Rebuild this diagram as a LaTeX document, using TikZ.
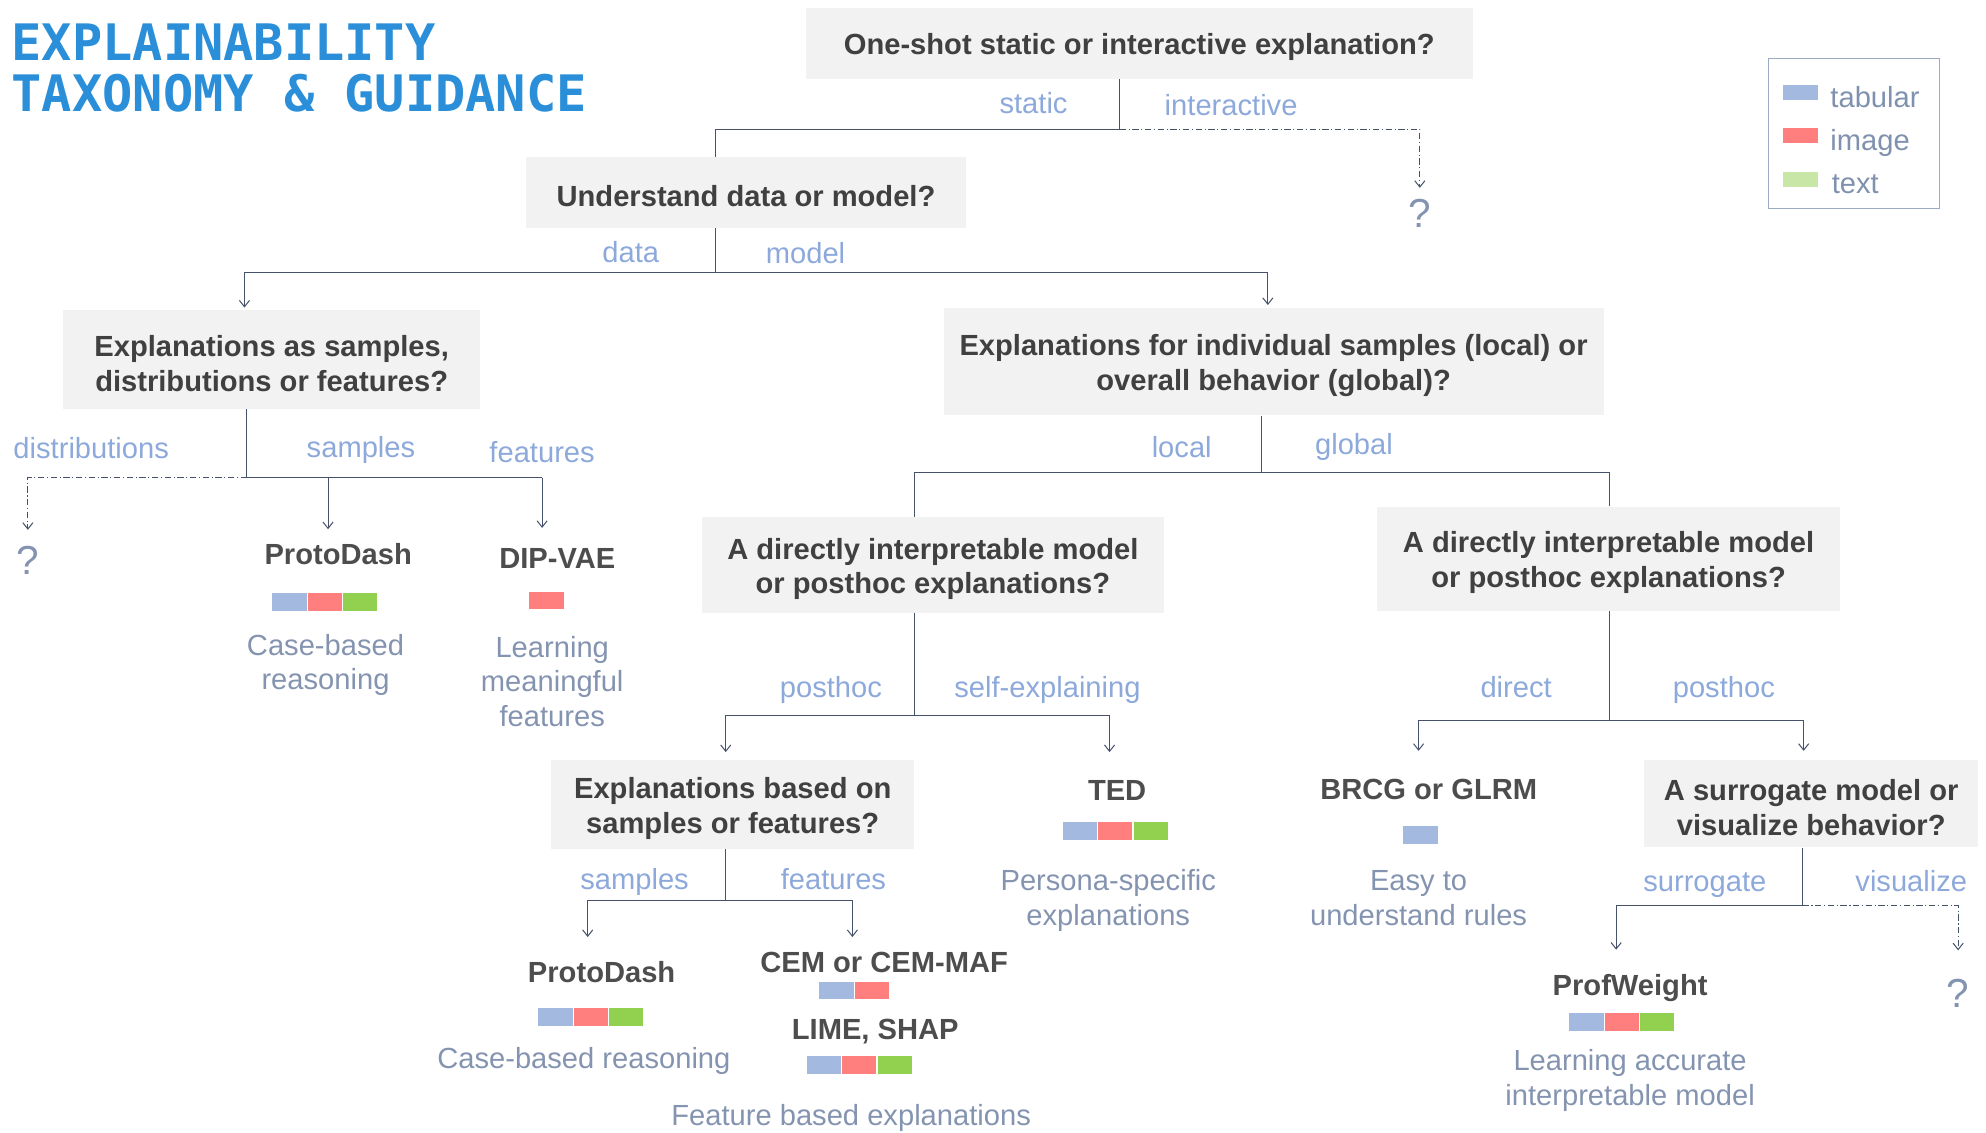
\documentclass[tikz,border=0pt]{standalone}
\usepackage{fontspec}
\setmainfont{Liberation Sans}
\newfontfamily\titlefont{DejaVu Sans Mono}
\usetikzlibrary{arrows.meta}

\definecolor{titleblue}{HTML}{2A8FD8}
\definecolor{boxgray}{HTML}{F2F2F2}
\definecolor{qtext}{HTML}{404040}
\definecolor{restext}{HTML}{4D4D4D}
\definecolor{desctext}{HTML}{8494B0}
\definecolor{branch}{HTML}{8DA9DB}
\definecolor{wire}{HTML}{46526A}
\definecolor{tabc}{HTML}{A3B9E0}
\definecolor{imgc}{HTML}{FF7F7F}
\definecolor{txtc}{HTML}{92D050}
\definecolor{legtxt}{HTML}{C8E6A6}
\definecolor{legframe}{HTML}{9AAAC2}
\definecolor{legfont}{HTML}{7F91AE}

\newcommand{\mainsize}{\fontsize{23}{27.5}\selectfont}
% extra room above the first line pushes box texts slightly down
\newcommand{\qtop}{\rule{0pt}{23pt}}

\tikzset{
  question/.style={fill=boxgray, text=qtext, font=\mainsize\bfseries, align=center, inner sep=0pt},
  result/.style={text=restext, font=\mainsize\bfseries, inner sep=0pt, text height=19pt, text depth=3pt},
  desc/.style={text=desctext, font=\mainsize, align=center, inner sep=0pt},
  branchlbl/.style={text=branch, font=\mainsize, inner sep=0pt, text height=19pt, text depth=3pt},
  legendlbl/.style={anchor=west, text=legfont, font=\mainsize, inner sep=0pt, text height=19pt, text depth=3pt},
  qmark/.style={text=desctext, font=\fontsize{32}{32}\selectfont, inner sep=0pt, text height=23pt, text depth=0pt},
  wire/.style={draw=wire, line width=0.8pt},
  tip/.style={-{Straight Barb[length=5pt,width=8pt]}},
  dd/.style={dash pattern=on 5pt off 2pt on 1pt off 2pt},
  titletext/.style={anchor=base west, inner sep=0pt, text=titleblue, font=\titlefont\bfseries\fontsize{39.7}{40}\selectfont},
}

% a row of modality swatches: x, y of the top-left corner, list of colours
\newcommand{\swatchrow}[3]{%
  \foreach \c [count=\i from 0] in {#3} {
    \fill[\c] ({#1+28*\i},#2) rectangle ++(27,14);
  }%
}

\begin{document}
\begin{tikzpicture}[x=1pt,y=-1pt]
\useasboundingbox (0,0) rectangle (1568,894);

% title
\node[titletext] (title1) at (9,48) {EXPLAINABILITY};
\node[titletext] (title2) at (9,88) {TAXONOMY \& GUIDANCE};

% legend
\node[draw=legframe, line width=0.8pt, minimum width=135pt, minimum height=119pt, inner sep=0pt] (legend) at (1463.5,105.5) {};
\fill[tabc] (1408,67) rectangle (1435,79);
\fill[imgc] (1408,101) rectangle (1435,113);
\fill[legtxt] (1408,136) rectangle (1435,148);
\node[legendlbl] (lgtab) at (1445,77) {tabular};
\node[legendlbl] (lgimg) at (1445,111) {image};
\node[legendlbl] (lgtxt) at (1446,145) {text};

% question boxes
\node[question, minimum width=527pt, minimum height=56pt] (q1) at (899.5,34) {\qtop One-shot static or interactive explanation?};
\node[question, minimum width=348pt, minimum height=56pt] (q2) at (589,152) {\qtop Understand data or model?};
\node[question, minimum width=329pt, minimum height=78pt] (q3) at (214.5,284) {\qtop Explanations as samples,\\distributions or features?};
\node[question, minimum width=521pt, minimum height=85pt] (q4) at (1005.5,285.5) {\qtop Explanations for individual samples (local) or\\overall behavior (global)?};
\node[question, minimum width=365pt, minimum height=76pt] (q5) at (736.5,446) {\qtop A directly interpretable model\\or posthoc explanations?};
\node[question, minimum width=366pt, minimum height=82pt] (q6) at (1270,441) {\qtop A directly interpretable model\\or posthoc explanations?};
\node[question, minimum width=287pt, minimum height=70pt] (q7) at (578.5,635) {\qtop Explanations based on\\samples or features?};
\node[question, minimum width=264pt, minimum height=69pt] (q8) at (1430,634.5) {\qtop A surrogate model or\\visualize behavior?};

% open ends
\node[qmark] (qm1) at (1121,168) {?};
\node[qmark] (qm2) at (22,442) {?};
\node[qmark] (qm3) at (1546,784) {?};

% methods
\node[result] (pd1) at (267,438) {ProtoDash};
\node[result] (dip) at (440,441) {DIP-VAE};
\node[result] (ted) at (882,624) {TED};
\node[result] (pd2) at (475,768) {ProtoDash};
\node[result] (cem) at (698,760) {CEM or CEM-MAF};
\node[result] (lime) at (691,813) {LIME, SHAP};
\node[result] (brcg) at (1128,623) {BRCG or GLRM};
\node[result] (prof) at (1287,778) {ProfWeight};

% modality swatches
\swatchrow{215}{468}{tabc,imgc,txtc}
\swatchrow{418}{467}{imgc}
\swatchrow{839}{649}{tabc,imgc,txtc}
\swatchrow{425}{796}{tabc,imgc,txtc}
\swatchrow{647}{775}{tabc,imgc}
\swatchrow{637}{834}{tabc,imgc,txtc}
\swatchrow{1108}{652}{tabc}
\swatchrow{1239}{800}{tabc,imgc,txtc}

% descriptions
\node[desc] (d1) at (257,525) {Case-based\\reasoning};
\node[desc] (d2) at (436,538) {Learning\\meaningful\\features};
\node[desc] (d3) at (875,711) {Persona-specific\\explanations};
\node[desc] (d4) at (461,838) {Case-based reasoning};
\node[desc] (d5) at (672,883) {Feature based explanations};
\node[desc] (d6) at (1120,709) {Easy to\\understand rules};
\node[desc] (d7) at (1287,853) {Learning accurate\\interpretable model};

% branch labels
\node[branchlbl] (lstatic) at (816,82) {static};
\node[branchlbl] (linter) at (972,83) {interactive};
\node[branchlbl] (ldata) at (498,199) {data};
\node[branchlbl] (lmodel) at (636,200) {model};
\node[branchlbl] (ldist) at (72,354) {distributions};
\node[branchlbl] (lsamp1) at (285,353) {samples};
\node[branchlbl] (lfeat1) at (428,357) {features};
\node[branchlbl] (llocal) at (933,353) {local};
\node[branchlbl] (lglobal) at (1069,351) {global};
\node[branchlbl] (lpost1) at (656,543) {posthoc};
\node[branchlbl] (lself) at (827,543) {self-explaining};
\node[branchlbl] (lsamp2) at (501,694) {samples};
\node[branchlbl] (lfeat2) at (658,694) {features};
\node[branchlbl] (ldirect) at (1197,543) {direct};
\node[branchlbl] (lpost2) at (1361,543) {posthoc};
\node[branchlbl] (lsurr) at (1346,696) {surrogate};
\node[branchlbl] (lvis) at (1509,696) {visualize};

% junction points of the decision tree
\coordinate (j1) at (884,102);
\coordinate (j1l) at (565,102);
\coordinate (j2) at (565,215);
\coordinate (j2l) at (193,215);
\coordinate (j2r) at (1001,215);
\coordinate (j3) at (195,377);
\coordinate (j3a) at (259,377);
\coordinate (j3r) at (428,377);
\coordinate (j4) at (996,373);
\coordinate (j4l) at (722,373);
\coordinate (j4r) at (1271,373);
\coordinate (j5) at (722,565);
\coordinate (j5l) at (573,565);
\coordinate (j5r) at (876,565);
\coordinate (j7) at (573,711);
\coordinate (j7l) at (464,711);
\coordinate (j7r) at (673,711);
\coordinate (j6) at (1271,569);
\coordinate (j6l) at (1120,569);
\coordinate (j6r) at (1424,569);
\coordinate (j8) at (1423,715);
\coordinate (j8l) at (1276,715);

% static / interactive
\draw[wire] (j1 |- q1.south) -- (j1) -- (j1l) -- (j1l |- q2.north);
\draw[wire, dd, tip, shorten >=8pt] (j1) -| (qm1.north);

% data / model
\draw[wire] (j2 |- q2.south) -- (j2);
\draw[wire, tip, shorten >=2pt] (j2) -- (j2l) -- (j2l |- q3.north);
\draw[wire, tip, shorten >=2pt] (j2) -- (j2r) -- (j2r |- q4.north);

% samples / distributions / features
\draw[wire] (j3 |- q3.south) -- (j3) -- (j3r);
\draw[wire, dd, tip, shorten >=12pt] (j3) -| (qm2.north);
\draw[wire, tip, shorten >=9pt] (j3a) -- (j3a |- pd1.north);
\draw[wire, tip, shorten >=13pt] (j3r) -- (j3r |- dip.north);

% local / global
\draw[wire] (j4 |- q4.south) -- (j4);
\draw[wire] (j4) -- (j4l) -- (j4l |- q5.north);
\draw[wire] (j4) -- (j4r) -- (j4r |- q6.north);

% posthoc / self-explaining
\draw[wire] (j5 |- q5.south) -- (j5);
\draw[wire, tip, shorten >=6pt] (j5) -- (j5l) -- (j5l |- q7.north);
\draw[wire, tip, shorten >=19pt] (j5) -- (j5r) -- (j5r |- ted.north);

% samples / features
\draw[wire] (j7 |- q7.south) -- (j7);
\draw[wire, tip, shorten >=17pt] (j7) -- (j7l) -- (j7l |- pd2.north);
\draw[wire, tip, shorten >=9pt] (j7) -- (j7r) -- (j7r |- cem.north);

% direct / posthoc
\draw[wire] (j6 |- q6.south) -- (j6);
\draw[wire, tip, shorten >=19pt] (j6) -- (j6l) -- (j6l |- brcg.north);
\draw[wire, tip, shorten >=7pt] (j6) -- (j6r) -- (j6r |- q8.north);

% surrogate / visualize
\draw[wire] (j8 |- q8.south) -- (j8);
\draw[wire, tip, shorten >=17pt] (j8) -- (j8l) -- (j8l |- prof.north);
\draw[wire, dd, tip, shorten >=22pt] (j8) -| (qm3.north);

\end{tikzpicture}
\end{document}
